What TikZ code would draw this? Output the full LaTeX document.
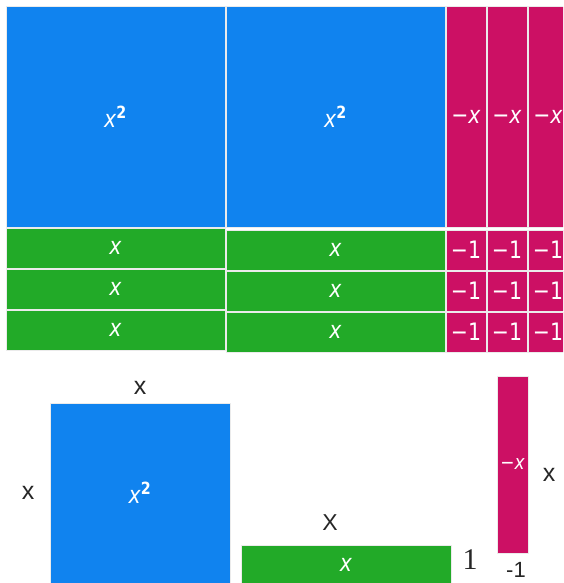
\documentclass[tikz,border=0pt]{standalone}
\usepackage{fontspec}
\usetikzlibrary{positioning}
\newfontfamily\tilefont[FakeStretch=0.85]{DejaVu Sans}
\newfontfamily\sidefont{Liberation Sans}
\newfontfamily\onefont{Liberation Serif}
\definecolor{sqblue}{RGB}{16,131,239}
\definecolor{bargreen}{RGB}{34,170,40}
\definecolor{negred}{RGB}{204,16,100}
\tikzset{
  tile/.style={draw=white!92!black, line width=1pt, inner sep=0pt, text=white,
    font=\tilefont\fontsize{24}{26}\selectfont},
  bluetile/.style={tile, fill=sqblue},
  greentile/.style={tile, fill=bargreen},
  redtile/.style={tile, fill=negred},
  side/.style={inner sep=0pt, text=black!85, font=\sidefont\fontsize{25}{27}\selectfont}
}
\newcommand{\xsq}{\textit{x}\textsuperscript{\bfseries 2}}
\newcommand{\mx}{−\textit{x}}

\begin{document}
\begin{tikzpicture}[x=1pt, y=-1pt]
  \useasboundingbox (0,0) rectangle (563,583);
  \clip (0,0) rectangle (563,583);
  % Top grid: two x^2 squares and three -x strips
  \node[bluetile, minimum width=219pt, minimum height=220pt] (sqa) at (115.5,117) {\xsq};
  \node[bluetile, minimum width=219pt, minimum height=220pt] (sqb) at (335.5,117) {\xsq};
  \foreach \cx [count=\i] in {466,507,548}
    \node[redtile, minimum width=40pt, minimum height=220pt] (strip\i) at (\cx,117) {\mx};
  % Rows of x bars and -1 units
  \foreach \cy [count=\j] in {248,289,330}
    \node[greentile, minimum width=219pt, minimum height=40pt] (bara\j) at (115.5,\cy) {\textit{x}};
  \foreach \cy [count=\j] in {250,291,332} {
    \node[greentile, minimum width=219pt, minimum height=40pt] (barb\j) at (335.5,\cy) {\textit{x}};
    \foreach \cx [count=\i] in {466,507,548}
      \node[redtile, minimum width=40pt, minimum height=40pt] (unit\j\i) at (\cx,\cy) {−1};
  }
  % Legend: one tile of each kind with its side lengths
  \node[bluetile, minimum width=180pt, minimum height=180pt] (keysq) at (140,493) {\xsq};
  \node[side, above=8pt of keysq] (keysqtop) {x};
  \node[side, left=15pt of keysq] (keysqleft) {x};
  \node[greentile, minimum width=210pt, minimum height=40pt] (keybar) at (346,565) {\textit{x}};
  \node[side, font=\sidefont\fontsize{23}{25}\selectfont] (keybartop) at (330,523) {X};
  \node[side, font=\onefont\fontsize{30}{32}\selectfont] (keybarside) at (470,560) {1};
  \node[redtile, minimum width=31pt, minimum height=177pt,
    font=\tilefont\fontsize{20}{22}\selectfont] (keystrip) at (512.5,464.5) {\mx};
  \node[side] (keystripside) at (549,475) {x};
  \node[side, font=\sidefont\fontsize{22}{24}\selectfont] (keystripbot) at (516,570) {-1};
\end{tikzpicture}
\end{document}
